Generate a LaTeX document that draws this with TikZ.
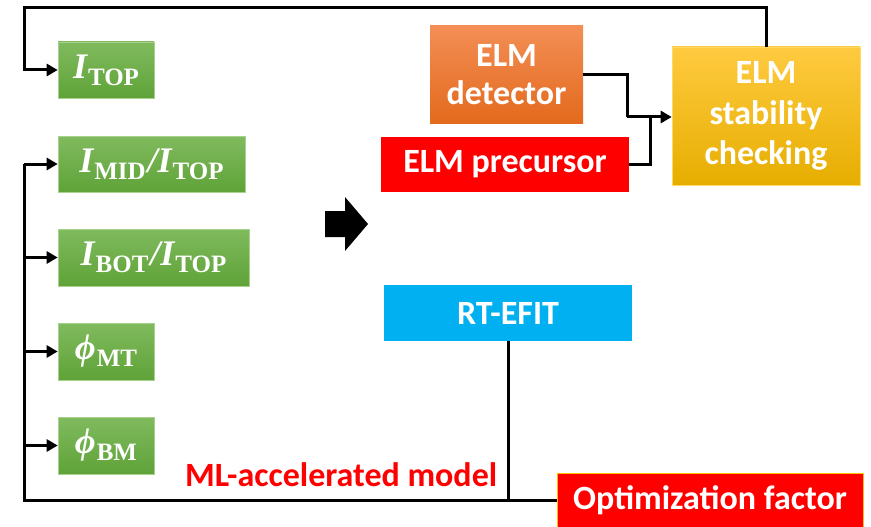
\documentclass[tikz,border=0pt]{standalone}
\usepackage{fontspec}
\newfontfamily\calib{Carlito}
\newfontfamily\lser{Liberation Serif}
\usetikzlibrary{arrows.meta}
\definecolor{gtop}{HTML}{80BA5E}
\definecolor{gbot}{HTML}{5FA338}
\definecolor{gbrd}{HTML}{A9D18E}
\definecolor{otop}{HTML}{F38E55}
\definecolor{obot}{HTML}{E36A1D}
\definecolor{ytop}{HTML}{FFCA40}
\definecolor{ymid}{HTML}{FFC000}
\definecolor{ybot}{HTML}{E6AE00}
\definecolor{ybrd}{HTML}{FFD966}
\definecolor{pred}{HTML}{FF0000}
\definecolor{pblue}{HTML}{00B0F0}
\newcommand{\gvar}[2]{{\itshape #1}\kern1pt\raisebox{-7pt}{\fontsize{25}{25}\selectfont #2}}
\tikzset{
  gbox/.style={draw=gbrd, line width=0.6pt, top color=gtop, bottom color=gbot, text=white, inner sep=0pt,
    font=\lser\bfseries\fontsize{36}{40}\selectfont},
  tbox/.style={inner sep=0pt, text=white, align=center,
    font=\calib\bfseries\fontsize{34}{38}\selectfont},
  conn/.style={line width=3pt, black},
  arr/.style={conn, -{Triangle[length=11pt,width=12pt]}},
  lbl/.style={text=pred, inner sep=0pt, font=\calib\bfseries\fontsize{34}{38}\selectfont}
}
\begin{document}
\begin{tikzpicture}[x=1pt,y=-1pt]
\useasboundingbox (0,0) rectangle (871,527);
% green input boxes
\node[gbox, minimum width=96pt, minimum height=56pt] (itop) at (106,70) {\gvar{I}{TOP}};
\node[gbox, minimum width=187pt, minimum height=56pt] (imid) at (151.5,164) {\gvar{I}{MID}\kern2pt{\itshape/}\gvar{I}{TOP}};
\node[gbox, minimum width=191pt, minimum height=57pt] (ibot) at (153.5,257.5) {\gvar{I}{BOT}\kern2pt{\itshape/}\gvar{I}{TOP}};
\node[gbox, minimum width=96pt, minimum height=57pt] (phimt) at (106,351.5) {\gvar{ϕ}{MT}};
\node[gbox, minimum width=96pt, minimum height=57pt] (phibm) at (106,445.5) {\gvar{ϕ}{BM}};
% right boxes
\node[tbox, top color=otop, bottom color=obot, minimum width=153pt, minimum height=97pt] (det) at (506.5,74.5) {ELM\\detector};
\node[tbox, fill=pred, minimum width=248pt, minimum height=55pt] (prec) at (505,164) {ELM precursor};
\node[tbox, draw=ybrd, line width=0.6pt, top color=ytop, middle color=ymid, bottom color=ybot, minimum width=188pt, minimum height=138pt, font=\calib\bfseries\fontsize{34}{40.5}\selectfont] (stab) at (766,116) {ELM\\stability\\checking};
\node[tbox, fill=pblue, minimum width=248pt, minimum height=56pt] (efit) at (508,313) {RT-EFIT};
\node[tbox, fill=pred, draw=ymid, line width=0.8pt, minimum width=306pt, minimum height=54pt] (opt) at (710,500) {Optimization factor};
\node[lbl, anchor=base west] (ml) at (185,486) {ML-accelerated model};
% coordinates
\coordinate (tr) at (766,8);
\coordinate (tl) at (24,8);
\coordinate (lt) at (24,164);
\coordinate (bl) at (24,500);
\coordinate (m1) at (627,117);
\coordinate (j) at (650,117);
% connectors
\draw[arr] (stab.north) -- (tr) -- (tl) |- (itop.west);
\draw[conn] (det.east) -| (m1);
\draw[arr] (m1) -- (stab.west |- m1);
\draw[conn] (prec.east) -| (j);
\draw[conn] (lt) -- (bl) -- (opt.west);
\draw[arr] (lt) -- (imid.west);
\draw[arr] (ibot.west -| bl) -- (ibot.west);
\draw[arr] (phimt.west -| bl) -- (phimt.west);
\draw[arr] (phibm.west -| bl) -- (phibm.west);
\draw[conn] (efit.south) -- (efit.south |- bl);
% big arrow
\fill[black] (325,211) -- (345,211) -- (345,197) -- (368,224) -- (345,251) -- (345,237) -- (325,237) -- cycle;
\end{tikzpicture}
\end{document}
